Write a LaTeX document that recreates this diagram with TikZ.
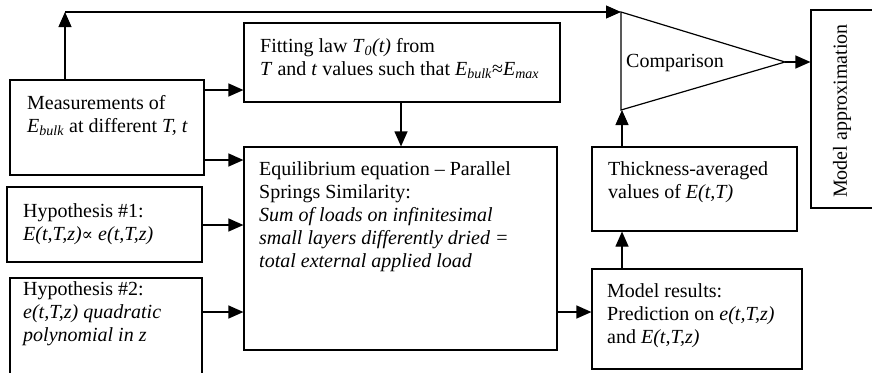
\documentclass[tikz,border=0pt]{standalone}
\usepackage{fontspec}
\setmainfont{Liberation Serif}
\newfontfamily\symfnt[Scale=0.85]{DejaVu Serif}
\usetikzlibrary{arrows.meta}
\newcommand\mylines[1]{\begin{tabular}[t]{@{}l@{}}#1\end{tabular}}
\begin{document}
\begin{tikzpicture}[x=1pt,y=-1pt,
  box/.style={draw, line width=1.2pt, rectangle, inner sep=0pt},
  txt/.style={anchor=base west, inner sep=0pt, font=\fontsize{20}{23}\selectfont},
  arr/.style={line width=1.2pt, -{Triangle[length=15pt,width=13pt]}}]
\useasboundingbox (0,0) rectangle (872,372);
\clip (0,0) rectangle (872,372);
% boxes
\node[box, minimum width=194pt, minimum height=95pt] (meas) at (107,127.5) {};
\node[box, minimum width=316pt, minimum height=79pt] (fit) at (402,62.5) {};
\node[box, minimum width=313pt, minimum height=203pt] (eq) at (400.5,248.5) {};
\node[box, minimum width=195pt, minimum height=75pt] (hyp1) at (104.5,224.5) {};
\node[box, minimum width=192pt, minimum height=107pt] (hyp2) at (106,331.5) {};
\node[box, minimum width=205pt, minimum height=84pt] (thick) at (694.5,189) {};
\node[box, minimum width=210pt, minimum height=100pt] (res) at (697,319) {};
\node[box, minimum width=79pt, minimum height=198pt] (approx) at (850.5,109) {};
% triangle
\coordinate (tA) at (621,12);
\coordinate (tB) at (621,110);
\coordinate (tC) at (785,62);
\draw[line width=1.2pt, line join=miter] (tA) -- (tB) -- (tC) -- cycle;
% texts
\node[txt] (measT) at (27,109) {\mylines{Measurements of\\ \textit{E}\textsubscript{\textit{bulk}} at different \textit{T, t}}};
\node[txt] (fitT) at (260,52) {\mylines{Fitting law \textit{T}\textsubscript{\textit{0}}\textit{(t)} from\\ \textit{T} and \textit{t} values such that \textit{E}\textsubscript{\textit{bulk}}≈\textit{E}\textsubscript{\textit{max}}}};
\node[txt] (eqT) at (259,175) {\mylines{Equilibrium equation -- Parallel\\ Springs Similarity:\\ \textit{Sum of loads on infinitesimal}\\ \textit{small layers differently dried =}\\ \textit{total external applied load}}};
\node[txt] (hyp1T) at (23,217) {\mylines{Hypothesis \#1:\\ \textit{E(t,T,z)}{\symfnt\itshape ∝} \textit{e(t,T,z)}}};
\node[txt] (hyp2T) at (23,295) {\mylines{Hypothesis \#2:\\ \textit{e(t,T,z) quadratic}\\ \textit{polynomial in z}}};
\node[txt] (thickT) at (608,175) {\mylines{Thickness-averaged\\ values of \textit{E(t,T)}}};
\node[txt] (resT) at (607,297) {\mylines{Model results:\\ Prediction on \textit{e(t,T,z)}\\ and \textit{E(t,T,z)}}};
\node[txt] (cmp) at (626,67) {Comparison};
\node[inner sep=0pt, font=\fontsize{20}{23}\selectfont, rotate=90] (apT) at (842,111) {Model approximation};
% helper coordinates
\coordinate (up) at (65,12);
\coordinate (r1) at (0,90);
\coordinate (r2) at (0,160);
\coordinate (r3) at (0,225);
\coordinate (r4) at (0,312);
\coordinate (c1) at (401,0);
\coordinate (c2) at (622,0);
% connectors
\draw[arr] (up |- meas.north) -- (up);
\draw[arr] (up) -- (tA);
\draw[arr] (meas.east |- r1) -- (fit.west |- r1);
\draw[arr] (meas.east |- r2) -- (eq.west |- r2);
\draw[arr] (hyp1.east |- r3) -- (eq.west |- r3);
\draw[arr] (hyp2.east |- r4) -- (eq.west |- r4);
\draw[arr] (fit.south -| c1) -- (eq.north -| c1);
\draw[arr] (eq.east |- r4) -- (res.west |- r4);
\draw[arr] (res.north -| c2) -- (thick.south -| c2);
\draw[arr] (thick.north -| c2) -- (c2 |- tB);
\draw[arr] (tC) -- (approx.west |- tC);
\end{tikzpicture}
\end{document}
